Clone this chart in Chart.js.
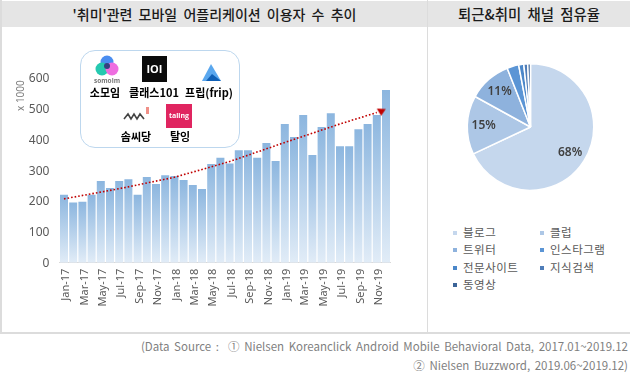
<!DOCTYPE html>
<html>
<head>
<meta charset="utf-8">
<script src="https://cdn.jsdelivr.net/npm/chart.js@4"></script>
<style>
  html, body { margin: 0; padding: 0; background: #fff; }
  body { width: 630px; height: 377px; position: relative; overflow: hidden; font-family: "Noto Sans CJK KR", sans-serif; }
  .abs { position: absolute; }
  .head { top: 1px; height: 26px; line-height: 26px; background: #e5e5e5; font-size: 14px; font-weight: 500; color: #1a1a1a; text-align: center; word-spacing: 3px; }
  .logo-label { font-size: 11px; font-weight: 700; color: #000; transform: translateX(-50%); white-space: nowrap; line-height: 16px; }
  #pieLegend { left: 453px; top: 224px; width: 174px; display: grid; grid-template-columns: 87px 87px; grid-auto-rows: 17.4px; font-size: 11.5px; color: #595959; letter-spacing: 0.5px; }
  #pieLegend div { white-space: nowrap; line-height: 17.4px; }
  #pieLegend i { display: inline-block; width: 4px; height: 4px; margin-right: 6px; vertical-align: 2px; }
  .src { right: 2px; font-size: 11.5px; color: #7f7f7f; white-space: nowrap; word-spacing: 2px; line-height: 16px; }
</style>
</head>
<body>

<div class="abs" style="left:0;top:0;width:2px;height:333px;background:#dcdcdc"></div>
<div class="abs" style="left:0;top:332px;width:630px;height:2px;background:#dcdcdc"></div>
<div class="abs" style="left:427px;top:0;width:1px;height:333px;background:#dcdcdc"></div>
<div class="abs head" style="left:2px;width:425px">'취미'관련 모바일 어플리케이션 이용자 수 추이</div>
<div class="abs head" style="left:428px;width:202px;font-size:14.4px">퇴근&amp;취미 채널 점유율</div>

<canvas id="barChart" class="abs" width="428" height="332" style="left:0;top:0"></canvas>
<canvas id="pieChart" class="abs" width="205" height="128" style="left:428px;top:63px"></canvas>

<div class="abs" style="left:13px;top:83px;width:14px;height:28px;font-size:10px;line-height:14px;font-family:'Noto Sans';color:#7f7f7f;writing-mode:vertical-rl;transform:rotate(180deg);text-align:center;white-space:nowrap">x 1000</div>

<!-- service logos box -->
<div class="abs" style="left:80px;top:50px;width:158px;height:96px;border:1px solid #bdd7ee;border-radius:15px;background:#fff"></div>
<svg class="abs" style="left:80px;top:50px" width="160" height="98" viewBox="80 50 160 98">
  <circle cx="107" cy="62" r="6.5" fill="#4a8df0"/>
  <circle cx="102" cy="69" r="6.5" fill="#25c9b0"/>
  <circle cx="112" cy="69" r="6.5" fill="#ee6ee0"/>
  <circle cx="107" cy="66" r="3" fill="#35407f"/>
  <text x="107" y="83" font-size="6.5" font-weight="700" fill="#777" text-anchor="middle" font-family="Open Sans">somoim</text>
  <rect x="142" y="56" width="25" height="26" fill="#0b0b0b"/>
  <text x="154.5" y="73" font-size="11" font-weight="700" fill="#fff" text-anchor="middle" font-family="Open Sans">IOI</text>
  <polygon points="211,64 202,81 221,81" fill="#5aa7ee"/>
  <polygon points="206,81 212,74 221,81" fill="#0f5fb5"/>
  <polyline points="124,119 128,114 131,119 134,114 137,119 140,114 144,119" fill="none" stroke="#444" stroke-width="1.6"/>
  <rect x="146" y="107" width="3" height="7" fill="#f09088"/>
  <rect x="166" y="104" width="26" height="24" fill="#e02560"/>
  <text x="179" y="118" font-size="7" font-weight="700" fill="#fff" text-anchor="middle" font-family="Open Sans">taling</text>
</svg>
<div class="abs logo-label" style="left:105px;top:84px">소모임</div>
<div class="abs logo-label" style="left:154px;top:84px">클래스101</div>
<div class="abs logo-label" style="left:209px;top:84px">프립(frip)</div>
<div class="abs logo-label" style="left:136px;top:128px">솜씨당</div>
<div class="abs logo-label" style="left:180px;top:128px">탈잉</div>

<div class="abs" id="pieLegend"></div>

<div class="abs src" style="top:338px">(Data Source : &nbsp;① Nielsen Koreanclick Android Mobile Behavioral Data, 2017.01~2019.12</div>
<div class="abs src" style="top:357px">② Nielsen Buzzword, 2019.06~2019.12)</div>

<script>
const months = [
  'Jan-17','Feb-17','Mar-17','Apr-17','May-17','Jun-17','Jul-17','Aug-17','Sep-17','Oct-17','Nov-17','Dec-17',
  'Jan-18','Feb-18','Mar-18','Apr-18','May-18','Jun-18','Jul-18','Aug-18','Sep-18','Oct-18','Nov-18','Dec-18',
  'Jan-19','Feb-19','Mar-19','Apr-19','May-19','Jun-19','Jul-19','Aug-19','Sep-19','Oct-19','Nov-19','Dec-19'
];
const users = [
  220,195,198,220,265,242,265,271,220,278,255,284,
  281,268,252,239,320,340,322,365,365,340,388,330,
  450,408,479,349,440,485,378,378,433,450,479,560
];
// trend line, gaps are bridged
const trend = [
  207,null,null,null,null,null,240,null,null,null,null,null,
  277,null,null,null,null,null,328,null,null,null,null,null,
  390,null,null,null,null,null,450,null,null,null,487,null
];
const pieLabels = ['블로그','클럽','트위터','인스타그램','전문사이트','지식검색','동영상'];
const pieValues = [68,15,11,3,1.3,1,0.7];
const pieColors = ['#c5d7ed','#adc7e6','#8eb2dd','#5b95d5','#4b87c9','#4f7db8','#3b6498'];
const yTicks = [0,100,200,300,400,500,600];

function barGradient(context) {
  const chart = context.chart;
  const y = chart.scales.y;
  if (context.type !== 'data' || !y) return '#8db7df';
  const top = y.getPixelForValue(context.raw);
  const bottom = y.getPixelForValue(0);
  if (!Number.isFinite(top) || !Number.isFinite(bottom)) return '#8db7df';
  const g = chart.ctx.createLinearGradient(0, top, 0, bottom);
  g.addColorStop(0, '#8cb6df');
  g.addColorStop(1, '#e1ecf7');
  return g;
}

// arrow head at the end of the trend line, sits a bit right of the last point
function arrowHead() {
  const cv = document.createElement('canvas');
  cv.width = 24;
  cv.height = 24;
  const c = cv.getContext('2d');
  c.fillStyle = '#c00000';
  c.beginPath();
  c.moveTo(12, 8);
  c.lineTo(21, 8.5);
  c.lineTo(16.3, 15.3);
  c.closePath();
  c.fill();
  return cv;
}

new Chart(document.getElementById('barChart'), {
  data: {
    labels: months,
    datasets: [
      {
        type: 'line',
        data: trend,
        spanGaps: true,
        borderColor: '#c00000',
        borderWidth: 1.6,
        borderDash: [1.6, 2],
        pointRadius: trend.map((v, i) => i === months.length - 2 ? 12 : 0),
        pointStyle: arrowHead(),
        pointBorderWidth: 0,
        order: 0
      },
      {
        type: 'bar',
        data: users,
        backgroundColor: barGradient,
        barPercentage: 0.87,
        categoryPercentage: 1,
        order: 1
      }
    ]
  },
  options: {
    responsive: false,
    animation: false,
    layout: { padding: { top: 77.7, right: 37.4, bottom: 0, left: 0 } },
    plugins: { legend: { display: false }, tooltip: { enabled: false } },
    scales: {
      x: {
        grid: { display: false, tickLength: 0 },
        border: { color: '#d9d9d9', width: 1 },
        afterFit(scale) { scale.height = 69.3; },
        ticks: {
          autoSkip: false,
          minRotation: 90,
          maxRotation: 90,
          padding: 6,
          labelOffset: 2,
          color: '#595959',
          font: { family: 'Noto Sans', size: 11 },
          callback(value, i) { return i % 2 === 0 ? months[i] : ''; }
        }
      },
      y: {
        min: 0,
        max: 600,
        grid: { display: false, tickLength: 0 },
        border: { display: false },
        afterFit(scale) { scale.width = 59.4; },
        afterBuildTicks(scale) { scale.ticks = yTicks.map(v => ({ value: v })); },
        ticks: {
          padding: 10,
          labelOffset: 1,
          color: '#595959',
          font: { family: 'Noto Sans', size: 12 }
        }
      }
    }
  }
});

const pieText = {
  id: 'pieText',
  afterDatasetsDraw(chart) {
    const c = chart.ctx;
    c.save();
    c.font = '600 12px "Noto Sans"';
    c.fillStyle = '#404040';
    c.textAlign = 'center';
    c.textBaseline = 'middle';
    chart.getDatasetMeta(0).data.forEach((arc, i) => {
      if (pieValues[i] < 10) return;
      const p = arc.getProps(['x', 'y', 'startAngle', 'endAngle', 'outerRadius']);
      const mid = (p.startAngle + p.endAngle) / 2;
      c.fillText(pieValues[i] + '%', p.x + Math.cos(mid) * p.outerRadius * 0.74, p.y + Math.sin(mid) * p.outerRadius * 0.74);
    });
    c.restore();
  }
};

new Chart(document.getElementById('pieChart'), {
  type: 'pie',
  data: {
    labels: pieLabels,
    datasets: [{ data: pieValues, backgroundColor: pieColors, borderColor: '#fff', borderWidth: 1.5 }]
  },
  options: {
    responsive: false,
    animation: false,
    layout: { padding: 0 },
    plugins: { legend: { display: false }, tooltip: { enabled: false } }
  },
  plugins: [pieText]
});

document.getElementById('pieLegend').innerHTML = pieLabels
  .map((name, i) => '<div><i style="background:' + pieColors[i] + '"></i>' + name + '</div>')
  .join('');
</script>
</body>
</html>
